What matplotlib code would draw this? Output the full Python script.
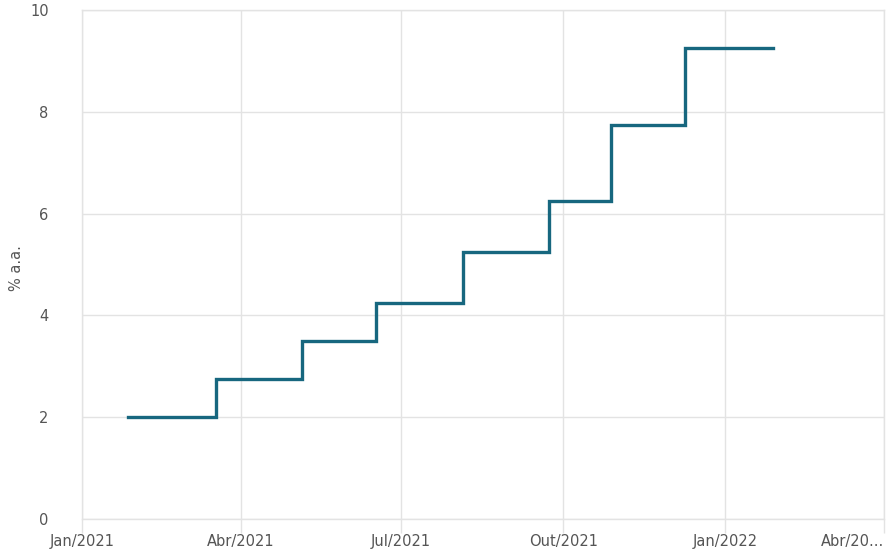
import numpy as np
import pandas as pd
import matplotlib
matplotlib.use('Agg')
import matplotlib.pyplot as plt

# Selic target, change dates and rates (% a.a.)
datas = ['2021-01-27', '2021-03-18', '2021-05-06', '2021-06-17', '2021-08-05',
         '2021-09-23', '2021-10-28', '2021-12-09', '2022-01-28']
taxas = [2.00, 2.75, 3.50, 4.25, 5.25, 6.25, 7.75, 9.25, 9.25]

tick_datas = ['2021-01-01', '2021-04-01', '2021-07-01', '2021-10-01', '2022-01-01', '2022-04-01']
tick_labels = ['Jan/2021', 'Abr/2021', 'Jul/2021', 'Out/2021', 'Jan/2022', 'Abr/20...']
y_ticks = [0, 2, 4, 6, 8, 10]

grid_c = '#e3e3e3'
txt_c = '#555555'

fig = plt.figure(figsize=(8.95, 5.6), dpi=100)
ax = fig.add_axes([82/895, 1-519/560, (884-82)/895, (519-10)/560])

x = pd.to_datetime(datas)
ax.plot(x, taxas, drawstyle='steps-post', color='#17677f', lw=2.4, solid_joinstyle='miter')

ax.set_xlim(pd.Timestamp('2021-01-01'), pd.Timestamp('2022-04-01'))
ax.set_ylim(0, 10)
ax.set_yticks(y_ticks)
ax.set_yticklabels([str(v) for v in y_ticks])
ax.set_xticks(pd.to_datetime(tick_datas))
ax.set_xticklabels(tick_labels)
# last label is clipped in the original, keep it inside the figure
ax.get_xticklabels()[-1].set_horizontalalignment('right')
ax.get_xticklabels()[-1].set_x(pd.Timestamp('2022-03-28'))

ax.grid(True, color=grid_c, lw=1.0)
for s in ax.spines.values():
    s.set_color(grid_c)
    s.set_linewidth(1.0)
ax.tick_params(axis='x', length=10, color=grid_c, width=1.0, labelsize=10.5, labelcolor=txt_c, pad=1)
ax.tick_params(axis='y', length=0, labelsize=10.5, labelcolor=txt_c, pad=24)
ax.set_ylabel('% a.a.', color=txt_c, fontsize=10.5)
ax.yaxis.set_label_coords(-0.072, 0.493)

fig.savefig('out.png', dpi=100)
